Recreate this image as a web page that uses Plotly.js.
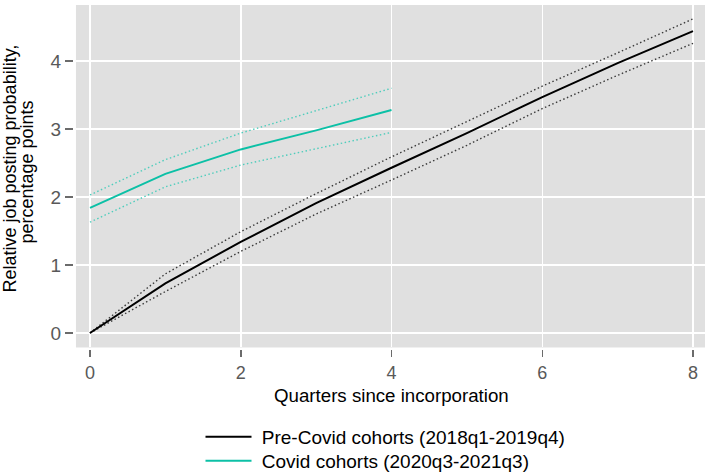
<!DOCTYPE html>
<html>
<head>
<meta charset="utf-8">
<script src="https://cdn.plot.ly/plotly-3.0.1.min.js"></script>
<style>html,body{margin:0;padding:0;background:#fff}#chart{width:705px;height:474px}</style>
</head>
<body>
<div id="chart"></div>
<script>
// Quarters since incorporation
const quartersPre = [0, 1, 2, 3, 4, 5, 6, 7, 8];
const quartersCovid = [0, 1, 2, 3, 4];

// Pre-Covid cohorts (2018q1-2019q4)
const preEst   = [0, 0.73, 1.34, 1.91, 2.43, 2.94, 3.47, 3.97, 4.44];
const preUpper = [0, 0.87, 1.49, 2.05, 2.59, 3.11, 3.63, 4.12, 4.62];
const preLower = [0, 0.61, 1.20, 1.75, 2.25, 2.76, 3.30, 3.79, 4.26];

// Covid cohorts (2020q3-2021q3)
const covEst   = [1.84, 2.34, 2.70, 2.98, 3.28];
const covUpper = [2.03, 2.55, 2.94, 3.27, 3.60];
const covLower = [1.63, 2.15, 2.47, 2.71, 2.95];

const seriesNames = ["Pre-Covid cohorts (2018q1-2019q4)", "Covid cohorts (2020q3-2021q3)"];
const xTickVals = [0, 2, 4, 6, 8];
const yTickVals = [0, 1, 2, 3, 4];
const yTitleLines = ["Relative job posting probability,", "percentage points"];
const xTitle = "Quarters since incorporation";

const blackCol = "#000000";
const blackDot = "#3a3a3a";
const tealCol = "#0cc0a6";
const tealDot = "#4fcdbc";
const dotDash = "1.5px,2.5px";

const traces = [
  {x: quartersPre, y: preUpper, mode: "lines", line: {color: blackDot, width: 1.4, dash: dotDash}, showlegend: false, hoverinfo: "skip"},
  {x: quartersPre, y: preLower, mode: "lines", line: {color: blackDot, width: 1.4, dash: dotDash}, showlegend: false, hoverinfo: "skip"},
  {x: quartersCovid, y: covUpper, mode: "lines", line: {color: tealDot, width: 1.4, dash: dotDash}, showlegend: false, hoverinfo: "skip"},
  {x: quartersCovid, y: covLower, mode: "lines", line: {color: tealDot, width: 1.4, dash: dotDash}, showlegend: false, hoverinfo: "skip"},
  {x: quartersPre, y: preEst, mode: "lines", name: "\u00a0" + seriesNames[0], legend: "legend", line: {color: blackCol, width: 2}},
  {x: quartersCovid, y: covEst, mode: "lines", name: "\u00a0" + seriesNames[1], legend: "legend2", line: {color: tealCol, width: 2}}
];

const L = 73, T = 5, B = 125, W = 705, H = 474;
const paperH = H - T - B;
const pyToPaper = (py) => (H - B - py) / paperH;

const legendBase = {
  xref: "container", yref: "container",
  x: 200.5 / W, xanchor: "left", yanchor: "middle",
  orientation: "v", font: {size: 19, color: "#000"},
  bgcolor: "rgba(0,0,0,0)", itemwidth: 46
};

const layout = {
  width: W, height: H,
  margin: {l: L, r: 0, t: T, b: B, autoexpand: false},
  paper_bgcolor: "#ffffff",
  plot_bgcolor: "#e0e0e0",
  font: {family: "Liberation Sans, Arial, sans-serif", color: "#000"},
  xaxis: {
    domain: [0.0047, 1], anchor: "free", position: 0, automargin: false,
    range: [-0.186, 8.159],
    tickvals: xTickVals, ticktext: xTickVals.map(String),
    ticks: "outside", ticklen: 7, tickwidth: 1.5, tickcolor: "#6b6b6b",
    showgrid: true, gridcolor: "#ffffff", gridwidth: 1.5,
    zeroline: false, showline: false,
    tickfont: {size: 18, color: "#595959"}
  },
  yaxis: {
    domain: [0.0044, 1], anchor: "free", position: 0, automargin: false,
    range: [-0.213, 4.824],
    tickvals: yTickVals, ticktext: yTickVals.map(String),
    ticks: "outside", ticklen: 8, tickwidth: 1.5, tickcolor: "#6b6b6b",
    showgrid: true, gridcolor: "#ffffff", gridwidth: 1.5,
    zeroline: false, showline: false,
    tickfont: {size: 19, color: "#595959"}
  },
  annotations: [
    {text: xTitle, xref: "paper", yref: "paper", x: (391 - L) / (W - L), y: pyToPaper(395),
     xanchor: "center", yanchor: "middle", showarrow: false, borderpad: 0, font: {size: 18.7, color: "#000"}},
    {text: yTitleLines[0], textangle: -90, xref: "paper", yref: "paper", x: 0, y: pyToPaper(168.5),
     xanchor: "center", yanchor: "middle", xshift: 10 - L, showarrow: false, font: {size: 18, color: "#000"}},
    {text: yTitleLines[1], textangle: -90, xref: "paper", yref: "paper", x: 0, y: pyToPaper(172.5),
     xanchor: "center", yanchor: "middle", xshift: 26 - L, showarrow: false, font: {size: 18, color: "#000"}}
  ],
  showlegend: true,
  legend: Object.assign({}, legendBase, {y: 1 - 437 / H}),
  legend2: Object.assign({}, legendBase, {y: 1 - 461 / H})
};

Plotly.newPlot("chart", traces, layout, {displayModeBar: false, staticPlot: true});
</script>
</body>
</html>
